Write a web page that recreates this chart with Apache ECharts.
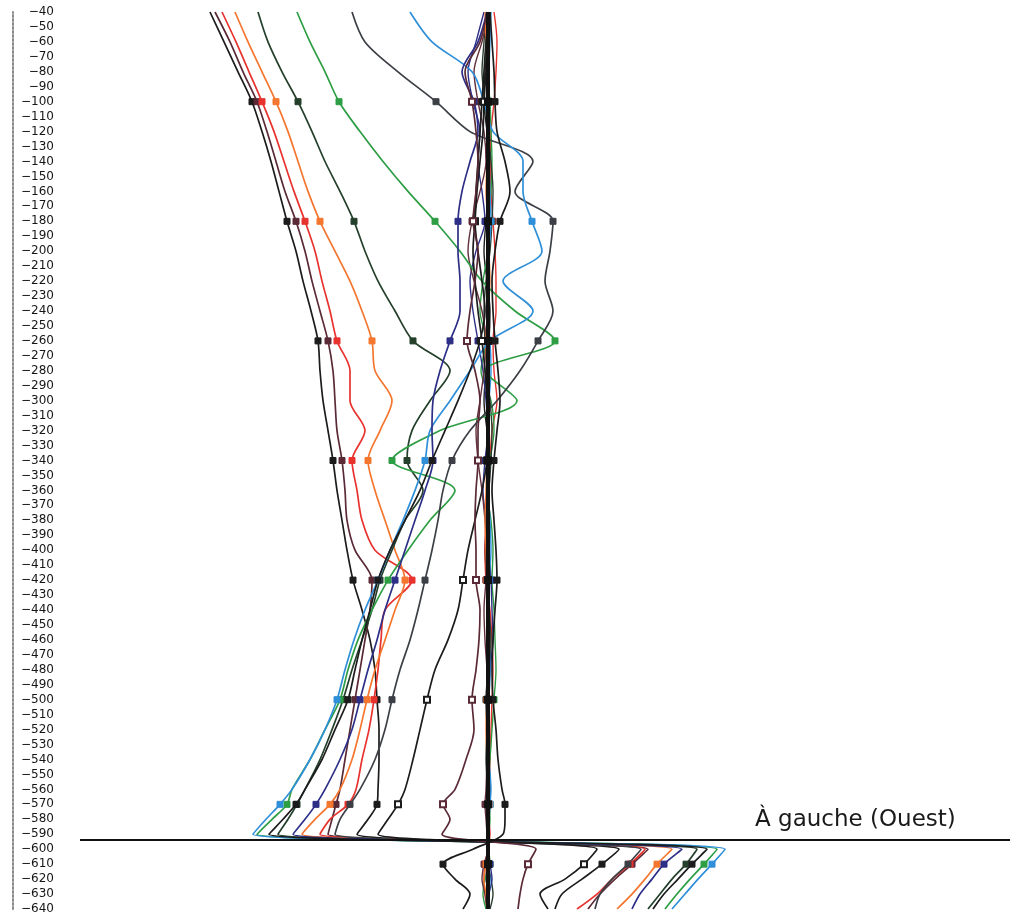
<!DOCTYPE html>
<html>
<head>
<meta charset="utf-8">
<script src="https://cdn.jsdelivr.net/npm/echarts@6/dist/echarts.min.js"></script>
<style>
  html, body { margin: 0; padding: 0; background: #fff; }
  #main { width: 1010px; height: 918px; }
</style>
</head>
<body>
<div id="main"></div>
<script>
var chartDom = document.getElementById('main');
var myChart = echarts.init(chartDom, null);
var option;

// depths (y) and marker depths
var depths = [-40, -60, -80, -100, -120, -140, -160, -180, -200, -220, -240, -260, -280, -300, -320, -340,
  -360, -380, -400, -420, -440, -460, -480, -500, -520, -540, -560, -570, -580, -590, -600, -610, -620, -630, -640];
var markerDepths = [-100, -180, -260, -340, -420, -500, -570, -610];
var baseDepth = -594;
var baseFrom = -408;

// displacement read for each profile, one value per depth
var blackA  = [-278, -264, -250, -236, -226, -217, -209, -201, -192, -185, -177, -170, -168, -165, -160, -155, -151, -146, -141, -135, -126, -118, -113, -111, -109, -109, -110, -111, -120, -131, 131, 114, 94, 74, 67];
var brownA  = [-273, -258, -245, -231, -221, -212, -203, -192, -183, -176, -168, -160, -155, -153, -151, -146, -143, -141, -133, -116, -118, -123, -128, -133, -138, -143, -148, -152, -156, -160, 160, 144, 127, 112, 100];
var redA    = [-266, -252, -239, -226, -214, -204, -194, -183, -173, -166, -158, -151, -138, -138, -123, -136, -131, -126, -113, -76, -103, -107, -110, -114, -119, -126, -132, -140, -158, -168, 157, 142, 124, 109, 89];
var orangeA = [-253, -240, -226, -212, -200, -190, -180, -168, -153, -138, -126, -116, -113, -96, -108, -120, -113, -103, -93, -83, -93, -103, -113, -121, -128, -136, -148, -158, -173, -186, 184, 169, 157, 144, 129];
var dkGreen = [-230, -220, -206, -190, -176, -163, -148, -134, -123, -110, -93, -75, -38, -58, -76, -81, -65, -83, -96, -108, -116, -126, -136, -145, -156, -168, -183, -191, -200, -210, 209, 198, 184, 172, 160];
var greenA  = [-191, -178, -163, -149, -128, -105, -80, -53, -28, -6, 27, 67, -3, 29, -48, -96, -33, -58, -80, -100, -116, -130, -140, -148, -163, -178, -196, -201, -216, -231, 229, 216, 202, 189, 177];
var greyA   = [-136, -123, -90, -52, -18, 45, 27, 65, 62, 57, 65, 50, 32, 9, -18, -36, -45, -50, -56, -63, -70, -78, -88, -96, -103, -113, -128, -138, -148, -153, 153, 140, 124, 112, 107];
var blueA   = [-78, -56, -16, -4, 5, 35, 35, 44, 54, 15, 45, 2, -18, -38, -58, -63, -73, -85, -98, -110, -123, -134, -143, -151, -163, -178, -196, -208, -222, -235, 237, 224, 210, 197, 184];
var navyA   = [-1, -10, -26, -14, -10, -18, -26, -30, -30, -28, -28, -38, -48, -55, -56, -55, -63, -73, -83, -93, -103, -111, -120, -128, -136, -148, -163, -172, -183, -195, 194, 176, 164, 152, 144];
var blackB  = [1, -2, -4, -6, -8, -10, -12, -13, -10, -6, -3, -8, -18, -30, -43, -56, -68, -83, -98, -110, -118, -126, -133, -140, -153, -166, -183, -192, -205, -219, 219, 204, 190, 176, 165];
var blackC  = [2, 0, -2, -4, -5, -8, -11, -13, -15, -13, -10, -6, -3, -1, 0, -1, -6, -13, -20, -25, -30, -40, -53, -61, -68, -75, -83, -90, -100, -110, 109, 96, 77, 52, 60];
var brownB  = [-1, -8, -23, -16, -12, -10, -12, -15, -10, -13, -18, -21, -13, -8, -10, -10, -12, -13, -12, -12, -8, -9, -12, -16, -14, -22, -33, -45, -38, -46, 48, 40, 35, 32, 30];
var blackD  = [2, 4, 6, 7, 9, 17, 22, 12, 7, 4, 5, 7, 10, 12, 9, 6, 4, 6, 8, 9, 7, 5, 4, 5, 8, 10, 14, 17, 17, 15, -15, -45, -33, -18, -25];

// profiles that stay near zero
var zBlack  = [1, -1, -3, -4, -1, 2, 1, -2, -4, -1, 2, 1, -2, -4, -1, 2, 1, -1, -3, -1, 1, 2, 0, -2, -1, 1, 2, 1, 0, 1, 0, -1, -2, 1, 0];
var zRed    = [6, 9, 8, 6, 3, 2, 3, 5, 7, 8, 8, 5, 6, 9, 4, 2, 0, -2, -3, -2, 2, 4, 5, 4, 3, 2, 1, 0, 1, 2, 0, -3, -4, -3, -1];
var zGreen  = [0, -2, -1, 2, 3, 4, 3, 1, 0, -5, -8, -2, -7, 3, 6, 2, -1, 3, 5, 4, 6, 7, 8, 6, 4, 2, 0, 1, 2, 1, 1, 2, -3, -5, -2];
var zDkGrn  = [-2, -4, -6, -3, 0, 3, 5, 4, 2, -2, -4, -3, -1, 2, 4, 3, 1, 0, -2, -1, 1, 3, 2, 0, -1, -2, 0, 2, 1, 0, -1, 0, 3, 5, 2];
var zNavy   = [-4, -12, -20, -15, -8, -10, -6, -3, -12, -18, -15, -10, -5, -2, 0, -3, -5, -2, 1, 3, 4, 5, 2, 1, -1, 0, 2, 1, 0, -1, 0, 2, 4, 1, 0];
var zBrown  = [1, -6, -14, -10, -4, -2, -8, -16, -20, -14, -6, -2, -4, -8, -12, -10, -6, -3, -1, -2, -4, -3, -1, 0, 1, -1, -2, -3, -2, -1, 0, -4, -6, -3, -1];
var zBlue   = [3, 2, 1, 0, -1, 1, 2, 3, 1, 0, -1, 2, 3, 1, 0, -1, 0, 2, 3, 1, 0, 1, 2, 1, 0, 1, 3, 2, 1, 0, -1, 0, 2, 1, 0];
var zOrange = [-3, -2, 0, 1, 0, -1, -2, 0, 1, 2, 0, -2, -1, 0, 1, -1, -2, -3, -2, -1, 0, 1, 0, -1, -2, -1, 0, 1, 0, -1, 0, -2, -4, -2, 0];

function profile(name, xs, color, width, marker) {
  return {
    name: name,
    type: 'line',
    smooth: 0.3,
    symbol: marker || 'rect',
    symbolSize: 6,
    lineStyle: { color: color, width: width },
    itemStyle: { color: color, borderColor: color, borderWidth: 1 },
    z: 2,
    data: depths.map(function (d, i) {
      var item = { value: [xs[i], d] };
      if (markerDepths.indexOf(d) < 0) item.symbol = 'none';
      return item;
    })
  };
}

var series = [
  profile('z1', zBlack, '#1c1c1c', 1.4),
  profile('z2', zRed, '#e3342f', 1.4),
  profile('z3', zGreen, '#2f9a45', 1.4),
  profile('z4', zDkGrn, '#2a3d30', 1.4),
  profile('z5', zNavy, '#2d2f86', 1.4),
  profile('z6', zBrown, '#62303c', 1.4),
  profile('z7', zBlue, '#2f8fd8', 1.4),
  profile('z8', zOrange, '#f0742e', 1.4),
  profile('blackA', blackA, '#1c1c1c', 1.7),
  profile('brownA', brownA, '#5a2a36', 1.7),
  profile('redA', redA, '#e8322e', 1.7),
  profile('orangeA', orangeA, '#f4762f', 1.7),
  profile('dkGreen', dkGreen, '#24402b', 1.7),
  profile('greenA', greenA, '#2e9e44', 1.7),
  profile('greyA', greyA, '#3c4046', 1.7),
  profile('blueA', blueA, '#2f8fd8', 1.7),
  profile('navyA', navyA, '#2d2f86', 1.7),
  profile('blackB', blackB, '#1c1c1c', 1.7),
  profile('blackC', blackC, '#1c1c1c', 1.7, 'emptyRect'),
  profile('brownB', brownB, '#5a2a36', 1.7, 'emptyRect'),
  profile('blackD', blackD, '#1c1c1c', 1.7),
  {
    name: 'zero',
    type: 'line',
    symbol: 'rect',
    symbolSize: 8,
    lineStyle: { color: '#111', width: 4 },
    itemStyle: { color: '#111' },
    z: 3,
    data: depths.map(function (d) {
      var item = { value: [0, d] };
      if (markerDepths.indexOf(d) < 0) item.symbol = 'none';
      return item;
    }),
    markLine: {
      silent: true,
      symbol: 'none',
      label: { show: false },
      lineStyle: { color: '#111', width: 1.8, type: 'solid' },
      data: [[{ coord: [baseFrom, baseDepth] }, { coord: [522, baseDepth] }]]
    }
  }
];

option = {
  animation: false,
  backgroundColor: '#ffffff',
  textStyle: { fontFamily: 'DejaVu Sans' },
  grid: { left: 13, right: 0, top: 12, bottom: 9 },
  xAxis: {
    type: 'value',
    min: -475,
    max: 522,
    show: false
  },
  yAxis: {
    type: 'value',
    min: -640,
    max: -40,
    interval: 10,
    splitLine: { show: false },
    axisTick: { show: false },
    axisLine: { show: true, onZero: false, lineStyle: { color: '#8a8a8a', width: 2, type: [2, 2] } },
    axisLabel: {
      inside: true,
      align: 'right',
      margin: 41,
      color: '#161616',
      fontSize: 12,
      fontFamily: 'DejaVu Sans',
      formatter: function (v) { return String(v).replace('-', '\u2212'); }
    }
  },
  graphic: [{
    type: 'text',
    left: 755,
    top: 809,
    style: {
      text: 'À gauche (Ouest)',
      font: '23px "DejaVu Sans"',
      fill: '#1a1a1a'
    }
  }],
  series: series
};

myChart.setOption(option);
</script>
</body>
</html>
